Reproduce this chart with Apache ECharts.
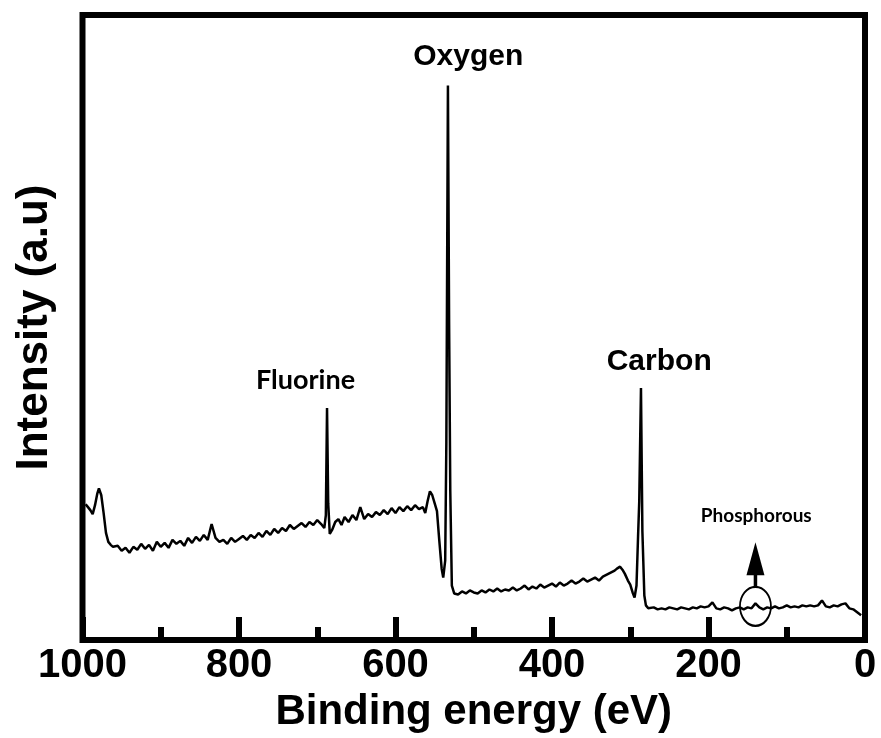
<!DOCTYPE html>
<html>
<head>
<meta charset="utf-8">
<script src="https://cdn.jsdelivr.net/npm/echarts@6/dist/echarts.min.js"></script>
<style>
html,body{margin:0;padding:0;background:#fff;}
#c{width:881px;height:738px;}
</style>
</head>
<body>
<div id="c"></div>
<script>
// Binding energy (eV)
const energies = [
  996,993,990,987,984,981,979,976,973,970,967,964,961,
  955,950,945,940,935,930,925,920,915,910,
  905,900,895,890,885,880,875,870,865,860,
  855,850,845,840,835,830,825,820,815,810,
  805,800,795,790,785,780,775,770,765,760,
  755,750,745,740,735,730,725,720,715,710,
  705,700,
  695,691,689,687.5,686,684,681,677,673,669,
  665,660,655,650,645,640,635,630,625,620,
  615,610,605,600,595,590,585,580,575,570,
  565,562,559,556,553,550,547,544,541,539,
  536.5,535,533,531.5,530,528,525,
  520,515,510,505,500,495,490,485,480,475,
  470,465,460,455,450,445,440,435,430,425,
  420,415,410,405,400,395,390,385,380,375,
  370,365,360,355,350,345,340,335,330,325,
  320,
  317,313,310,307,303,300,297,294.5,292,290,
  288.5,286.3,284.5,282,280,277,
  275,270,265,260,255,250,245,240,235,230,
  225,220,215,210,205,200,195,190,185,180,
  175,170,165,160,155,150,145,140,135,130,
  125,120,115,110,105,100,95,90,85,80,
  75,70,65,60,55,50,45,40,35,30,
  25,20,15,10,5
];
// Intensity (a.u.)
const intensities = [
  137,134,131,127,136,148,153,146,128,108,99,96,94,
  95,90,93,88,94,91,97,92,96,90,
  99,94,98,93,101,97,100,95,103,98,
  104,100,106,101,117,103,99,101,97,103,
  99,102,105,101,106,103,108,104,110,106,
  112,108,113,110,116,112,115,118,114,119,
  116,121,
  117,113,126,234,138,107,111,119,122,116,
  124,119,126,121,134,122,127,124,129,126,
  131,127,133,128,134,130,135,131,136,132,
  134,128,140,150,146,138,130,100,72,63,
  80,200,559,320,150,55,47,
  46,49,47,50,48,47,50,48,51,49,
  52,49,51,50,53,50,52,55,51,54,
  52,56,53,55,57,54,58,55,57,60,
  57,59,62,59,61,63,60,64,66,68,
  70,
  72,74,71,67,60,56,48,43,55,105,
  140,254,110,45,35,32,
  31,33,31,32,31,33,32,31,33,32,
  31,33,32,34,33,34,38,32,31,33,
  32,30,32,33,31,33,32,37,33,31,
  33,32,34,32,33,35,33,34,33,35,
  34,35,34,35,40,34,33,35,34,36,
  37,32,31,28,25
];

// Peak annotations (text placed in data coordinates)
const labelNames = ['Oxygen', 'Carbon', 'Fluorine', 'Phosphorous'];
const labelEnergies = [507, 263, 715, 139];
const labelIntensities = [588, 281, 262, 125];
const labelFontSizes = [30, 30, 27, 19];
const labelFonts = ['Liberation Sans', 'Liberation Sans', 'Lato', 'Lato'];

// Phosphorous marker: circle and arrow
const markerEnergy = [140];
const markerIntensity = [34];
const arrowIntensities = [53, 72];
const arrowHeadIntensity = [82];

// Axes
const xMin = 0, xMax = 1000, xInterval = 200;
const yMin = 0, yMax = 630;

const spectrum = energies.map((e, i) => [e, intensities[i]]);
const labelData = labelNames.map((n, i) => ({
  name: n,
  value: [labelEnergies[i], labelIntensities[i]],
  label: { fontSize: labelFontSizes[i], fontFamily: labelFonts[i], color: '#000', fontWeight: 'bold' }
}));

const chart = echarts.init(document.getElementById('c'));
const boldFont = 'Liberation Sans';
chart.setOption({
  animation: false,
  backgroundColor: '#fff',
  grid: {
    left: 82.5, right: 16, top: 15, bottom: 92,
    show: true, borderColor: '#000', borderWidth: 6, backgroundColor: 'transparent'
  },
  xAxis: {
    type: 'value', min: xMin, max: xMax, interval: xInterval, inverse: true,
    name: 'Binding energy (eV)', nameLocation: 'middle', nameGap: 42,
    nameTextStyle: { fontFamily: boldFont, fontWeight: 'bold', fontSize: 42, color: '#000' },
    axisLine: { show: false },
    axisTick: { show: true, inside: true, length: 23, lineStyle: { color: '#000', width: 6 } },
    minorTick: { show: true, splitNumber: 2, length: 13, lineStyle: { color: '#000', width: 6 } },
    axisLabel: { fontFamily: boldFont, fontWeight: 'bold', fontSize: 40, color: '#000', margin: 6,
                 formatter: v => String(v) },
    splitLine: { show: false }
  },
  yAxis: {
    type: 'value', min: yMin, max: yMax,
    name: 'Intensity (a.u)', nameLocation: 'middle', nameGap: 26,
    nameTextStyle: { fontFamily: boldFont, fontWeight: 'bold', fontSize: 44, color: '#000' },
    axisLine: { show: false }, axisTick: { show: false }, axisLabel: { show: false },
    splitLine: { show: false }
  },
  series: [
    {
      type: 'line', data: spectrum, symbol: 'none',
      lineStyle: { color: '#000', width: 2.5 }, z: 3
    },
    {
      type: 'scatter', data: labelData, symbolSize: 1,
      itemStyle: { color: 'rgba(0,0,0,0)', opacity: 1 },
      label: { show: true, position: 'inside', formatter: p => p.name, color: '#000', fontWeight: 'bold' },
      emphasis: { disabled: true },
      z: 5
    },
    {
      type: 'scatter', data: markerEnergy.map((e, i) => [e, markerIntensity[i]]),
      symbol: 'circle', symbolSize: [31, 39],
      itemStyle: { color: 'rgba(0,0,0,0)', borderColor: '#000', borderWidth: 2, opacity: 1 }, z: 6
    },
    {
      type: 'line', data: arrowIntensities.map(v => [markerEnergy[0], v]), symbol: 'none',
      lineStyle: { color: '#000', width: 3.5 }, z: 6
    },
    {
      type: 'scatter', data: arrowHeadIntensity.map(v => [markerEnergy[0], v]),
      symbol: 'triangle', symbolSize: [18, 33],
      itemStyle: { color: '#000', opacity: 1 }, z: 6
    }
  ]
});
</script>
</body>
</html>
